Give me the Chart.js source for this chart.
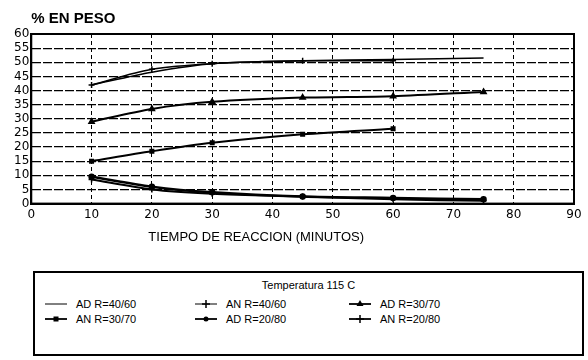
<!DOCTYPE html>
<html>
<head>
<meta charset="utf-8">
<script src="https://cdn.jsdelivr.net/npm/chart.js@4.4.1/dist/chart.umd.min.js"></script>
<style>
  body { margin: 0; background: #fff; }
  #wrap { position: relative; width: 588px; height: 360px; }
  #chartBox { position: absolute; left: 0; top: 0; width: 588px; height: 250px; }
  #leyenda {
    position: absolute; left: 33px; top: 271px; width: 547px; height: 81px;
    border: 2px solid #000; font-family: "Liberation Sans", Arial, sans-serif;
    font-size: 11px; color: #000; box-sizing: content-box;
  }
  #leyenda .tit { position: absolute; top: 6px; width: 100%; text-align: center; }
  #leyenda .item { position: absolute; display: flex; align-items: center; }
  #leyenda svg { margin-right: 9px; }
</style>
</head>
<body>
<div id="wrap">
  <div id="chartBox"><canvas id="grafico"></canvas></div>
  <div id="leyenda"><div class="tit">Temperatura 115 C</div></div>
</div>
<script>
const tiempos = [10, 20, 30, 45, 60, 75];
const adR4060 = [42, 46.5, 49.5, 50.5, 51, 51.5];
const anR4060 = [42, 47.5, 49.5, 50.5, 50.5, null];
const adR3070 = [29, 33.5, 36, 37.5, 38, 39.5];
const anR3070 = [15, 18.5, 21.5, 24.5, 26.5, null];
const adR2080 = [9.5, 6, 4, 2.5, 2, 1.5];
const anR2080 = [8.5, 5, 3.5, 2.5, 1.5, 1];
const yTicks = [0, 5, 10, 15, 20, 25, 30, 35, 40, 45, 50, 55, 60];

const puntos = (vals) => tiempos.map((t, i) => ({ x: t, y: vals[i] })).filter(p => p.y !== null);

const serie = (label, vals, estilo, radio, ancho) => ({
    label: label,
    data: puntos(vals),
    borderColor: '#000',
    backgroundColor: '#000',
    borderWidth: ancho,
    pointStyle: estilo,
    pointRadius: radio,
    pointBorderWidth: 1.5,
    tension: 0.3
});

const datasets = [
    serie('AD R=40/60', adR4060, false, 0, 1.5),
    serie('AN R=40/60', anR4060, 'cross', 3, 1.5),
    serie('AD R=30/70', adR3070, 'triangle', 3, 2),
    serie('AN R=30/70', anR3070, 'rect', 2.5, 2),
    serie('AD R=20/80', adR2080, 'circle', 2.5, 2.5),
    serie('AN R=20/80', anR2080, 'cross', 3, 2)
];

const marco = {
    id: 'marco',
    afterDraw(chart) {
        const { ctx, chartArea: a, scales } = chart;
        ctx.save();
        ctx.strokeStyle = '#000';
        ctx.lineWidth = 2;
        ctx.strokeRect(a.left, a.top, a.right - a.left, a.bottom - a.top);
        ctx.fillStyle = '#000';
        ctx.font = '13px "Liberation Sans", Arial, sans-serif';
        ctx.textAlign = 'center';
        ctx.textBaseline = 'middle';
        ctx.fillText('TIEMPO DE REACCION (MINUTOS)', scales.x.getPixelForValue(37.3), a.bottom + 34);
        ctx.restore();
    }
};

new Chart(document.getElementById('grafico'), {
    type: 'line',
    data: { datasets: datasets },
    plugins: [marco],
    options: {
        responsive: true,
        maintainAspectRatio: false,
        animation: false,
        layout: { padding: { left: 12, right: 14, top: 0, bottom: 24 } },
        plugins: {
            legend: { display: false },
            tooltip: { enabled: false },
            title: {
                display: true,
                text: '% EN PESO',
                align: 'start',
                fullSize: false,
                color: '#000',
                font: { family: '"Liberation Sans", Arial, sans-serif', size: 15 },
                padding: { top: 10, bottom: 6 }
            }
        },
        scales: {
            x: {
                type: 'linear',
                min: 0,
                max: 90,
                ticks: {
                    stepSize: 10,
                    color: '#000',
                    padding: 4,
                    font: { family: '"DejaVu Sans", sans-serif', size: 12 }
                },
                grid: { color: '#000', lineWidth: 1, tickLength: 0 },
                border: { color: '#000', width: 2, dash: [4, 3] }
            },
            y: {
                min: 0,
                max: 60,
                afterBuildTicks(scale) { scale.ticks = yTicks.map(v => ({ value: v })); },
                ticks: {
                    autoSkip: false,
                    color: '#000',
                    padding: 2,
                    font: { family: '"DejaVu Sans", sans-serif', size: 12, lineHeight: 1 }
                },
                grid: { color: '#000', lineWidth: 1.2, tickLength: 0 },
                border: { color: '#000', width: 2, dash: [9, 2] }
            }
        }
    }
});

// leyenda en tres columnas, construida desde los datasets
const leyenda = document.getElementById('leyenda');
const colX = [10, 160, 314];
const filaY = [23, 38];
const marcador = (estilo) => {
    if (estilo === 'cross') return '<path d="M11 4 V12 M7 8 H15" stroke="#000" stroke-width="1.5"/>';
    if (estilo === 'triangle') return '<path d="M11 4 L14.5 10 L7.5 10 Z" fill="#000"/>';
    if (estilo === 'rect') return '<rect x="8.5" y="5.5" width="5" height="5" fill="#000"/>';
    if (estilo === 'circle') return '<circle cx="11" cy="8" r="2.5" fill="#000"/>';
    return '';
};
datasets.forEach((d, i) => {
    const el = document.createElement('div');
    el.className = 'item';
    el.style.left = colX[i % 3] + 'px';
    el.style.top = filaY[Math.floor(i / 3)] + 'px';
    el.innerHTML = '<svg width="22" height="16"><line x1="0" y1="8" x2="22" y2="8" stroke="#000" stroke-width="' +
        (d.borderWidth > 1.5 ? 1.8 : 1) + '"/>' + marcador(d.pointStyle) + '</svg><span>' + d.label + '</span>';
    leyenda.appendChild(el);
});
</script>
</body>
</html>
